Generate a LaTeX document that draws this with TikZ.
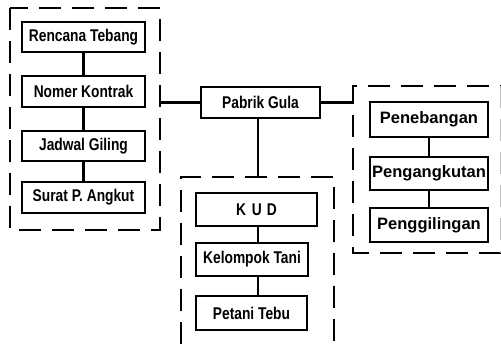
\documentclass[tikz,border=0pt]{standalone}
\usepackage{fontspec}
\setmainfont{Liberation Sans}
\newfontfamily\condfont[FakeStretch=0.81]{Liberation Sans}
\begin{document}
\begin{tikzpicture}[x=1pt,y=-1pt,
  box/.style={draw, line width=2.2pt, inner sep=0pt,
    font=\condfont\bfseries\fontsize{17}{17}\selectfont},
  rbox/.style={box, font=\bfseries\fontsize{16.5}{16.5}\selectfont},
  grp/.style={line width=2.6pt, dash pattern=on 22pt off 11pt},
  faint/.style={line width=1pt, draw=black!25, dash pattern=on 22pt off 11pt},
  link/.style={line width=2.2pt}]
\useasboundingbox (0,0) rectangle (501,344);
% group frames
\coordinate (ltl) at (10,8);
\coordinate (lbr) at (160,230);
\draw[grp] (ltl) rectangle (lbr);
\coordinate (rtl) at (353,86);
\coordinate (rbr) at (500,253);
\draw[grp] (rbr -| 501,0) -- (rbr -| rtl) -- (rtl) -- (rtl -| 501,0);
\draw[faint] (rtl -| rbr) -- (rbr);
\coordinate (mtl) at (181,177);
\coordinate (mtr) at (334,177);
\coordinate (mtop) at (258,177);
\draw[grp] (181,344) -- (mtl) -- (mtr) -- (334,344);
% left column
\node[box, minimum width=123pt, minimum height=30pt] (rt) at (83.5,37) {Rencana Tebang};
\node[box, minimum width=123pt, minimum height=31pt] (nk) at (83.5,91.5) {Nomer Kontrak};
\node[box, minimum width=123pt, minimum height=30pt] (jg) at (83.5,146) {Jadwal Giling};
\node[box, minimum width=123pt, minimum height=31pt] (sp) at (83.5,197.5) {Surat P. Angkut};
\draw[link] (rt) -- (nk);
\draw[link] (nk) -- (jg);
\draw[link] (jg) -- (sp);
% centre
\node[box, minimum width=119pt, minimum height=31pt] (pg) at (260.5,102.5) {Pabrik Gula};
\draw[link] (pg.west) -- (pg.west -| lbr);
\draw[link] (pg.east) -- (pg.east -| rtl);
\draw[link] (pg.south -| mtop) -- (mtop);
% middle column
\node[box, minimum width=121pt, minimum height=33pt] (kud) at (256.5,209.5) {K\hspace{0.35em}U\hspace{0.3em}D};
\node[box, minimum width=112pt, minimum height=33pt] (kt) at (252,259.5) {Kelompok Tani};
\node[box, minimum width=111pt, minimum height=34pt] (pt) at (251.5,313) {Petani Tebu};
\draw[link] (kud.south -| mtop) -- (kt.north -| mtop);
\draw[link] (kt.south -| mtop) -- (pt.north -| mtop);
% right column
\node[rbox, minimum width=118pt, minimum height=35pt] (pb) at (429,119.5) {Penebangan};
\node[rbox, minimum width=118pt, minimum height=33pt] (pk) at (429,173.5) {Pengangkutan};
\node[rbox, minimum width=118pt, minimum height=34pt] (pgl) at (429,225) {Penggilingan};
\draw[link] (pb) -- (pk);
\draw[link] (pk) -- (pgl);
\end{tikzpicture}
\end{document}
